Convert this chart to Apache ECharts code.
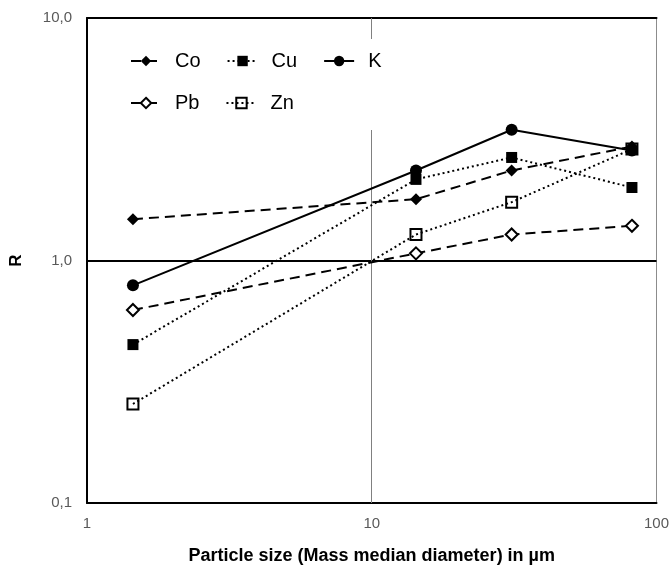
<!DOCTYPE html>
<html>
<head>
<meta charset="utf-8">
<script src="https://cdn.jsdelivr.net/npm/echarts@6/dist/echarts.min.js"></script>
<style>html,body{margin:0;padding:0;background:#fff}#c{width:672px;height:570px}</style>
</head>
<body>
<div id="c"></div>
<script>
// Particle size (mass median diameter, µm)
var sizes = [1.45, 14.3, 31, 82];
// R values per element
var Co = [1.48, 1.79, 2.35, 2.95];
var Cu = [0.45, 2.16, 2.66, 2.0];
var K  = [0.79, 2.35, 3.46, 2.84];
var Pb = [0.625, 1.07, 1.28, 1.39];
var Zn = [0.256, 1.28, 1.74, 2.88];
var xTicks = [1, 10, 100];
var yTicks = [0.1, 1, 10];

var FONT = '"Liberation Sans", Arial, sans-serif';
function pts(arr){ return sizes.map(function(x,i){ return [x, arr[i]]; }); }

var dash = [10, 6];
var dot = [2, 3];

var chart = echarts.init(document.getElementById('c'), null, {renderer:'canvas'});
var legendText = {fontFamily: FONT, fontSize: 20, color: '#000', padding: [0,0,0,9]};
chart.setOption({
  animation: false,
  backgroundColor: '#fff',
  grid: {left: 86, right: 14, top: 18, bottom: 61, containLabel: false},
  legend: [
    {data: ['Pb','Zn'], left: 118, top: 81, orient: 'horizontal', z: 10,
     itemWidth: 30, itemHeight: 13, itemGap: 26, padding: [12, 100, 17, 12],
     backgroundColor: '#fff', textStyle: legendText, selectedMode: false},
    {data: ['Co','Cu','K'], left: 118, top: 39, orient: 'horizontal', z: 11,
     itemWidth: 30, itemHeight: 13, itemGap: 26, padding: [12, 14, 14, 12],
     backgroundColor: '#fff', textStyle: legendText, selectedMode: false}
  ],
  xAxis: [
    {type: 'log', logBase: 10, min: 1, max: 100, position: 'bottom',
     axisLine: {show: true, lineStyle: {color: '#000', width: 2}},
     axisTick: {show: false}, splitLine: {show: false},
     axisLabel: {color: '#595959', fontFamily: FONT, fontSize: 15, margin: 13,
       formatter: function(v){ return String(Math.round(v)); }},
     name: 'Particle size (Mass median diameter) in µm', nameLocation: 'middle', nameGap: 44,
     nameTextStyle: {fontFamily: FONT, fontSize: 18, fontWeight: 'bold', color: '#000'}},
    {type: 'log', logBase: 10, min: 1, max: 100, position: 'top',
     axisLine: {show: true, lineStyle: {color: '#000', width: 2}},
     axisTick: {show: false}, splitLine: {show: false}, axisLabel: {show: false}}
  ],
  yAxis: [
    {type: 'log', logBase: 10, min: 0.1, max: 10, position: 'left',
     axisLine: {show: true, lineStyle: {color: '#000', width: 2}},
     axisTick: {show: false}, splitLine: {show: false},
     axisLabel: {color: '#595959', fontFamily: FONT, fontSize: 15, margin: 15,
       formatter: function(v){ return v.toFixed(1).replace('.', ','); }},
     name: 'R', nameLocation: 'middle', nameGap: 62, nameRotate: 90,
     nameTextStyle: {fontFamily: FONT, fontSize: 17, fontWeight: 'bold', color: '#000'}},
    {type: 'log', logBase: 10, min: 0.1, max: 10, position: 'right',
     axisLine: {show: true, lineStyle: {color: '#8c8c8c', width: 1}},
     axisTick: {show: false}, splitLine: {show: false}, axisLabel: {show: false}}
  ],
  series: [
    {name: 'Co', type: 'line', data: pts(Co), symbol: 'diamond', symbolSize: 12, z: 3,
     itemStyle: {color: '#000'}, lineStyle: {color: '#000', width: 2, type: dash},
     markLine: {silent: true, symbol: 'none', label: {show: false}, animation: false, z: 1,
       data: [
         {yAxis: 1, lineStyle: {color: '#000', width: 2, type: 'solid'}},
         {xAxis: 10, lineStyle: {color: '#808080', width: 1, type: 'solid'}}
       ]}},
    {name: 'Cu', type: 'line', data: pts(Cu), symbol: 'rect', symbolSize: 11, z: 3,
     itemStyle: {color: '#000'}, lineStyle: {color: '#000', width: 2, type: dot}},
    {name: 'K', type: 'line', data: pts(K), symbol: 'circle', symbolSize: 12, z: 3,
     itemStyle: {color: '#000'}, lineStyle: {color: '#000', width: 2, type: 'solid'}},
    {name: 'Pb', type: 'line', data: pts(Pb), symbol: 'diamond', symbolSize: 12, z: 3,
     itemStyle: {color: '#fff', borderColor: '#000', borderWidth: 2},
     lineStyle: {color: '#000', width: 2, type: dash}},
    {name: 'Zn', type: 'line', data: pts(Zn), symbol: 'rect', symbolSize: 11, z: 3,
     itemStyle: {color: 'rgba(255,255,255,0)', borderColor: '#000', borderWidth: 2},
     lineStyle: {color: '#000', width: 2, type: dot}}
  ]
});
</script>
</body>
</html>
